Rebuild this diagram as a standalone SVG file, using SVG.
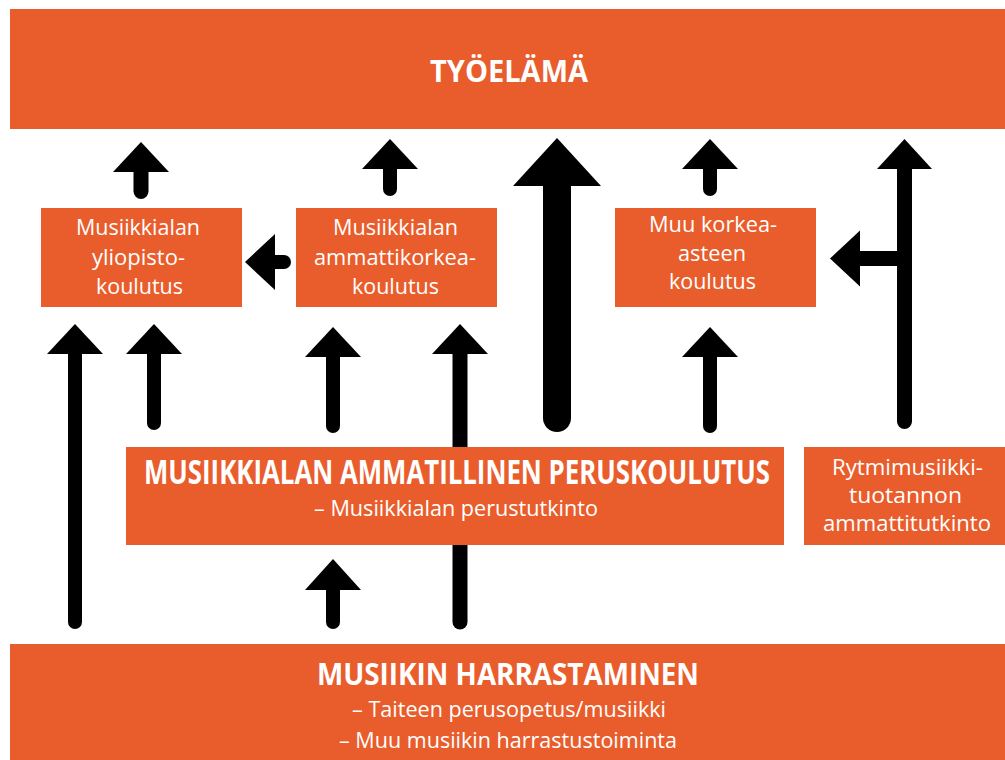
<svg xmlns="http://www.w3.org/2000/svg" width="1005" height="760" viewBox="0 0 1005 760">
<style>
.box{fill:#E95D2C}
.t{font-family:"Open Sans","Noto Sans","Liberation Sans",sans-serif;fill:#fff;font-size:22px}
.h{font-family:"Open Sans","Noto Sans","Liberation Sans",sans-serif;fill:#fff;font-weight:bold;font-size:30px}
.s{stroke:#000;fill:none;stroke-linecap:round}
.hd{fill:#000}
</style>
<rect width="1005" height="760" fill="#fff"/>
<g id="connectors">
  <g id="a1"><line class="s" x1="141" y1="172" x2="141" y2="191.5" stroke-width="15"/><polygon class="hd" points="141,142 169,172 113,172"/></g>
  <g id="a2"><line class="s" x1="390" y1="169" x2="390" y2="189" stroke-width="14"/><polygon class="hd" points="390,139 418,169 362,169"/></g>
  <g id="a-big"><line class="s" x1="557" y1="186" x2="557" y2="418" stroke-width="28"/><polygon class="hd" points="557,138 601,186 513,186"/></g>
  <g id="a3"><line class="s" x1="710" y1="169" x2="710" y2="189" stroke-width="14"/><polygon class="hd" points="710,139 738,169 682,169"/></g>
  <g id="a-t"><line class="s" x1="904.5" y1="169" x2="904.5" y2="421.5" stroke-width="15"/><polygon class="hd" points="904.5,139 932,169 877,169"/><line x1="904.5" y1="258.5" x2="858" y2="258.5" stroke="#000" stroke-width="15"/><polygon class="hd" points="830,258.5 860,230.5 860,286.5"/></g>
  <g id="a-left"><line class="s" x1="275" y1="262" x2="284" y2="262" stroke-width="14"/><polygon class="hd" points="245,262 275,234 275,290"/></g>
  <g id="aA"><line class="s" x1="75" y1="354" x2="75" y2="622" stroke-width="14"/><polygon class="hd" points="75,324 103,354 47,354"/></g>
  <g id="aB"><line class="s" x1="154" y1="354" x2="154" y2="423" stroke-width="14"/><polygon class="hd" points="154,324 182,354 126,354"/></g>
  <g id="aC"><line class="s" x1="333" y1="357" x2="333" y2="426" stroke-width="14"/><polygon class="hd" points="333,327 361,357 305,357"/></g>
  <g id="aD"><line class="s" x1="460" y1="354" x2="460" y2="622" stroke-width="15"/><polygon class="hd" points="460,324 488,354 432,354"/></g>
  <g id="aE"><line class="s" x1="710" y1="357" x2="710" y2="426" stroke-width="14"/><polygon class="hd" points="710,327 738,357 682,357"/></g>
  <g id="aF"><line class="s" x1="333" y1="590" x2="333" y2="622" stroke-width="14"/><polygon class="hd" points="333,559 361,590 305,590"/></g>
</g>
<g id="tyoelama">
  <rect class="box" x="10" y="9" width="995" height="120"/>
  <text class="h" x="430" y="82" textLength="158" lengthAdjust="spacingAndGlyphs">TYÖELÄMÄ</text>
</g>
<g id="yliopisto">
  <rect class="box" x="41" y="208" width="201" height="99"/>
  <text class="t" x="76" y="235" textLength="124" lengthAdjust="spacingAndGlyphs">Musiikkialan</text>
  <text class="t" x="92" y="265" textLength="93" lengthAdjust="spacingAndGlyphs">yliopisto-</text>
  <text class="t" x="96" y="294" textLength="87" lengthAdjust="spacingAndGlyphs">koulutus</text>
</g>
<g id="amk">
  <rect class="box" x="296" y="208" width="201" height="99"/>
  <text class="t" x="333" y="235" textLength="125" lengthAdjust="spacingAndGlyphs">Musiikkialan</text>
  <text class="t" x="314" y="265" textLength="162" lengthAdjust="spacingAndGlyphs">ammattikorkea-</text>
  <text class="t" x="352" y="294" textLength="87" lengthAdjust="spacingAndGlyphs">koulutus</text>
</g>
<g id="muu">
  <rect class="box" x="615" y="208" width="201" height="99"/>
  <text class="t" x="649" y="232" textLength="128" lengthAdjust="spacingAndGlyphs">Muu korkea-</text>
  <text class="t" x="678" y="261" textLength="68" lengthAdjust="spacingAndGlyphs">asteen</text>
  <text class="t" x="669" y="289" textLength="87" lengthAdjust="spacingAndGlyphs">koulutus</text>
</g>
<g id="ammatillinen">
  <rect class="box" x="126" y="447" width="658" height="98"/>
  <text class="h" x="144" y="484" font-size="25" transform="matrix(1 0 0 1.16 0 -77.44)" textLength="626" lengthAdjust="spacingAndGlyphs">MUSIIKKIALAN AMMATILLINEN PERUSKOULUTUS</text>
  <text class="t" x="314" y="516" textLength="284" lengthAdjust="spacingAndGlyphs">– Musiikkialan perustutkinto</text>
</g>
<g id="rytmimusiikki">
  <rect class="box" x="804" y="447" width="201" height="98"/>
  <text class="t" x="832" y="475" font-size="19.5" textLength="151" lengthAdjust="spacingAndGlyphs">Rytmimusiikki-</text>
  <text class="t" x="849" y="503" font-size="19.5" textLength="113" lengthAdjust="spacingAndGlyphs">tuotannon</text>
  <text class="t" x="823" y="531" font-size="19.5" textLength="168" lengthAdjust="spacingAndGlyphs">ammattitutkinto</text>
</g>
<g id="harrastaminen">
  <rect class="box" x="10" y="644" width="995" height="116"/>
  <text class="h" x="317" y="685" font-size="29" textLength="382" lengthAdjust="spacingAndGlyphs">MUSIIKIN HARRASTAMINEN</text>
  <text class="t" x="352" y="717" textLength="314" lengthAdjust="spacingAndGlyphs">– Taiteen perusopetus/musiikki</text>
  <text class="t" x="339" y="748" textLength="338" lengthAdjust="spacingAndGlyphs">– Muu musiikin harrastustoiminta</text>
</g>
</svg>
